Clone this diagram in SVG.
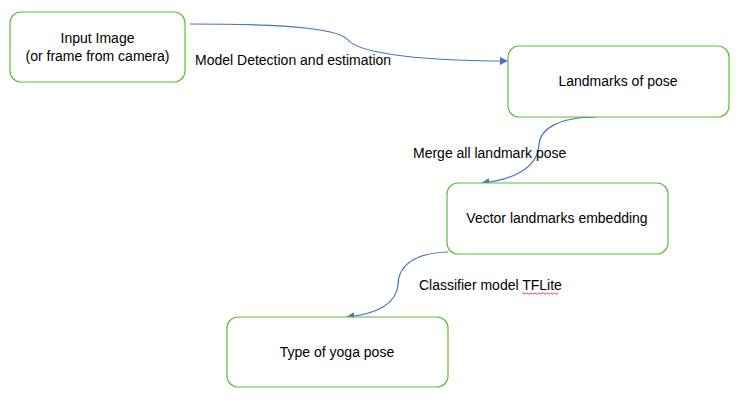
<svg xmlns="http://www.w3.org/2000/svg" width="751" height="406" viewBox="0 0 751 406">
<defs>
<style>
.box{fill:#ffffff;stroke:#62BB3A;stroke-width:1.2}
.lbl{font-family:"Liberation Sans",Arial,sans-serif;font-size:14px;fill:#000000}
.ctr{text-anchor:middle}
.con{fill:none;stroke:#4472C4;stroke-width:1.2}
</style>
<marker id="arr" viewBox="0 0 10 10" refX="9" refY="5" markerWidth="8" markerHeight="8" markerUnits="userSpaceOnUse" orient="auto">
<path d="M0,0 L10,5 L0,10 Z" fill="#4472C4"/>
</marker>
</defs>
<rect width="751" height="406" fill="#ffffff"/>
<g id="connectors">
<path class="con" marker-end="url(#arr)" d="M190,24 C300,24 340,30 348,40 C356,50 400,61 507,61"/>
<path class="con" marker-end="url(#arr)" d="M597,117 C560,117 540,128 539,145 C537,170 510,180 482,183"/>
<path class="con" marker-end="url(#arr)" d="M448,252 C415,253 398,265 398,285 C396,305 375,314 347,317"/>
</g>
<g id="edge-labels">
<text class="lbl" x="195" y="65">Model Detection and estimation</text>
<text class="lbl" x="413" y="158">Merge all landmark pose</text>
<text class="lbl" x="419" y="290">Classifier model TFLite</text>
<path d="M522,293.5 q1,-1.5 2,0 t2,0 t2,0 t2,0 t2,0 t2,0 t2,0 t2,0 t2,0 t2,0 t2,0 t2,0 t2,0 t2,0 t2,0 t2,0 t2,0 t2,0" fill="none" stroke="#e02020" stroke-width="0.8"/>
</g>
<g id="node-input">
<rect class="box" x="10" y="12" width="175" height="70" rx="11"/>
<text class="lbl ctr" x="97.5" y="43">Input Image</text>
<text class="lbl ctr" x="97.5" y="61">(or frame from camera)</text>
</g>
<g id="node-landmarks">
<rect class="box" x="508" y="46" width="221" height="71" rx="11"/>
<text class="lbl ctr" x="618" y="86">Landmarks of pose</text>
</g>
<g id="node-vector">
<rect class="box" x="447" y="183" width="221" height="71" rx="11"/>
<text class="lbl ctr" x="557" y="223">Vector landmarks embedding</text>
</g>
<g id="node-type">
<rect class="box" x="227" y="317" width="221" height="70" rx="11"/>
<text class="lbl ctr" x="337" y="357">Type of yoga pose</text>
</g>
</svg>
